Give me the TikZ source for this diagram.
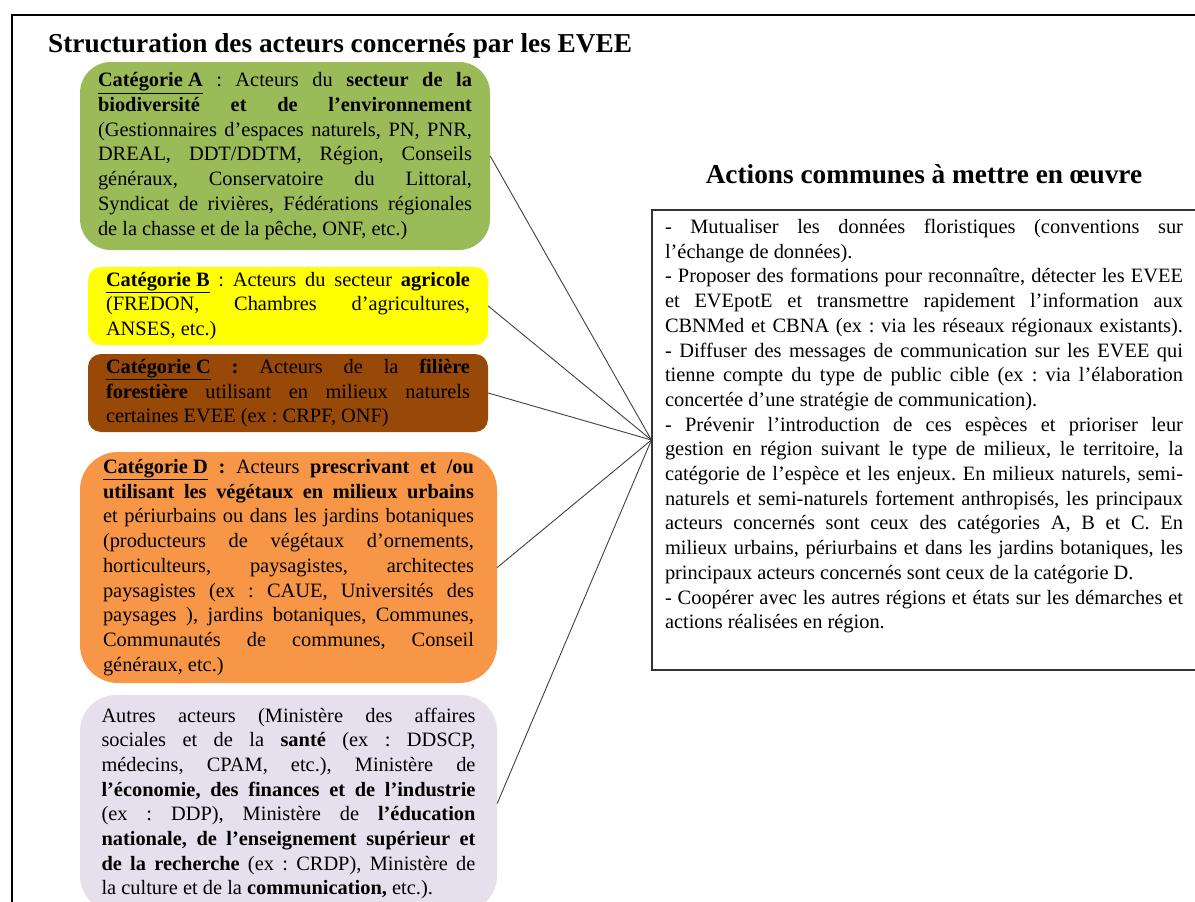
\documentclass[tikz,border=0pt]{standalone}
\usepackage{fontspec}
\setmainfont{Liberation Serif}
\usepackage{xcolor}
\definecolor{catgreen}{HTML}{9BBB59}
\definecolor{catyellow}{HTML}{FFFF00}
\definecolor{catbrown}{HTML}{984807}
\definecolor{catorange}{HTML}{F79646}
\definecolor{catlilac}{HTML}{E5E0EC}
\newcommand{\catfont}{\fontsize{20.4}{24.7}\selectfont}
\newcommand{\cat}[1]{\underline{\textbf{#1}}}
\hyphenpenalty=10000
\tolerance=10000
\frenchspacing

\begin{document}
\begin{tikzpicture}[x=1pt, y=-1pt,
  frameline/.style={line width=2.6pt, black},
  headline/.style={font=\fontsize{27.3}{30}\selectfont\bfseries, inner sep=0pt},
  catbox/.style={rounded corners=#1, inner sep=0pt, align=justify, font=\catfont},
  actbox/.style={draw=black!80, line width=1.2pt, inner sep=0pt},
  acttext/.style={inner sep=0pt, align=justify, text width=518pt, font=\catfont},
  link/.style={draw=black!75, line width=0.9pt}]

\useasboundingbox (0,0) rectangle (1195,902);
\clip (0,0) rectangle (1195,902);
\draw[frameline] (12,15) rectangle (1230,940);

\node[headline, anchor=west] (acttitle) at (48,46) {Structuration des acteurs concernés par les EVEE};
\node[headline] (planTitle) at (924,174) {Actions communes à mettre en œuvre};

\node[catbox=31pt, fill=catgreen, minimum width=410pt, minimum height=188pt, text width=374pt] (catA) at (285,156)
  {\cat{Catégorie A} : Acteurs du \textbf{secteur de la}\linebreak
   \textbf{biodiversité et de l’environnement}\linebreak
   (Gestionnaires d’espaces naturels, PN, PNR,\linebreak
   DREAL, DDT/DDTM, Région, Conseils\linebreak
   généraux, Conservatoire du Littoral,\linebreak
   Syndicat de rivières, Fédérations régionales\linebreak
   de la chasse et de la pêche, ONF, etc.)};

\node[catbox=13pt, fill=catyellow, minimum width=400pt, minimum height=78pt, text width=364pt] (catB) at (288,306)
  {\cat{Catégorie B} : Acteurs du secteur \textbf{agricole}\linebreak
   (FREDON, Chambres d’agricultures,\linebreak
   ANSES, etc.)};

\node[catbox=13pt, fill=catbrown, minimum width=400pt, minimum height=78pt, text width=364pt] (catC) at (288,393)
  {\cat{Catégorie C} \textbf{:} Acteurs de la \textbf{filière}\linebreak
   \textbf{forestière} utilisant en milieux naturels\linebreak
   certaines EVEE (ex : CRPF, ONF)};

\node[catbox=38pt, fill=catorange, minimum width=417pt, minimum height=231pt, text width=371pt] (catD) at (288.5,567.5)
  {\cat{Catégorie D} \textbf{:} Acteurs \textbf{prescrivant et /ou}\linebreak
   \textbf{utilisant les végétaux en milieux urbains}\linebreak
   et périurbains ou dans les jardins botaniques\linebreak
   (producteurs de végétaux d’ornements,\linebreak
   horticulteurs, paysagistes, architectes\linebreak
   paysagistes (ex : CAUE, Universités des\linebreak
   paysages ), jardins botaniques, Communes,\linebreak
   Communautés de communes, Conseil\linebreak
   généraux, etc.)};

\node[catbox=36pt, fill=catlilac, minimum width=417pt, minimum height=217pt, text width=374pt] (catE) at (288.5,803.5)
  {Autres acteurs (Ministère des affaires\linebreak
   sociales et de la \textbf{santé} (ex : DDSCP,\linebreak
   médecins, CPAM, etc.), Ministère de\linebreak
   \textbf{l’économie, des finances et de l’industrie}\linebreak
   (ex : DDP), Ministère de \textbf{l’éducation}\linebreak
   \textbf{nationale, de l’enseignement supérieur et}\linebreak
   \textbf{de la recherche} (ex : CRDP), Ministère de\linebreak
   la culture et de la \textbf{communication,} etc.).};

\node[actbox, minimum width=544pt, minimum height=460pt] (actions) at (924,440) {};
\node[acttext, anchor=north] (actionlist) at (924,219)
  {- Mutualiser les données floristiques (conventions sur\linebreak
   l’échange de données).\\
   - Proposer des formations pour reconnaître, détecter les EVEE\linebreak
   et EVEpotE et transmettre rapidement l’information aux\linebreak
   CBNMed et CBNA (ex : via les réseaux régionaux existants).\linebreak
   - Diffuser des messages de communication sur les EVEE qui\linebreak
   tienne compte du type de public cible (ex : via l’élaboration\linebreak
   concertée d’une stratégie de communication).\\
   - Prévenir l’introduction de ces espèces et prioriser leur\linebreak
   gestion en région suivant le type de milieux, le territoire, la\linebreak
   catégorie de l’espèce et les enjeux. En milieux naturels, semi-\linebreak
   naturels et semi-naturels fortement anthropisés, les principaux\linebreak
   acteurs concernés sont ceux des catégories A, B et C. En\linebreak
   milieux urbains, périurbains et dans les jardins botaniques, les\linebreak
   principaux acteurs concernés sont ceux de la catégorie D.\\
   - Coopérer avec les autres régions et états sur les démarches et\linebreak
   actions réalisées en région.};

\foreach \c in {catA,catB,catC,catD,catE} {\draw[link] (\c.east) -- (actions.west);}

\end{tikzpicture}
\end{document}
